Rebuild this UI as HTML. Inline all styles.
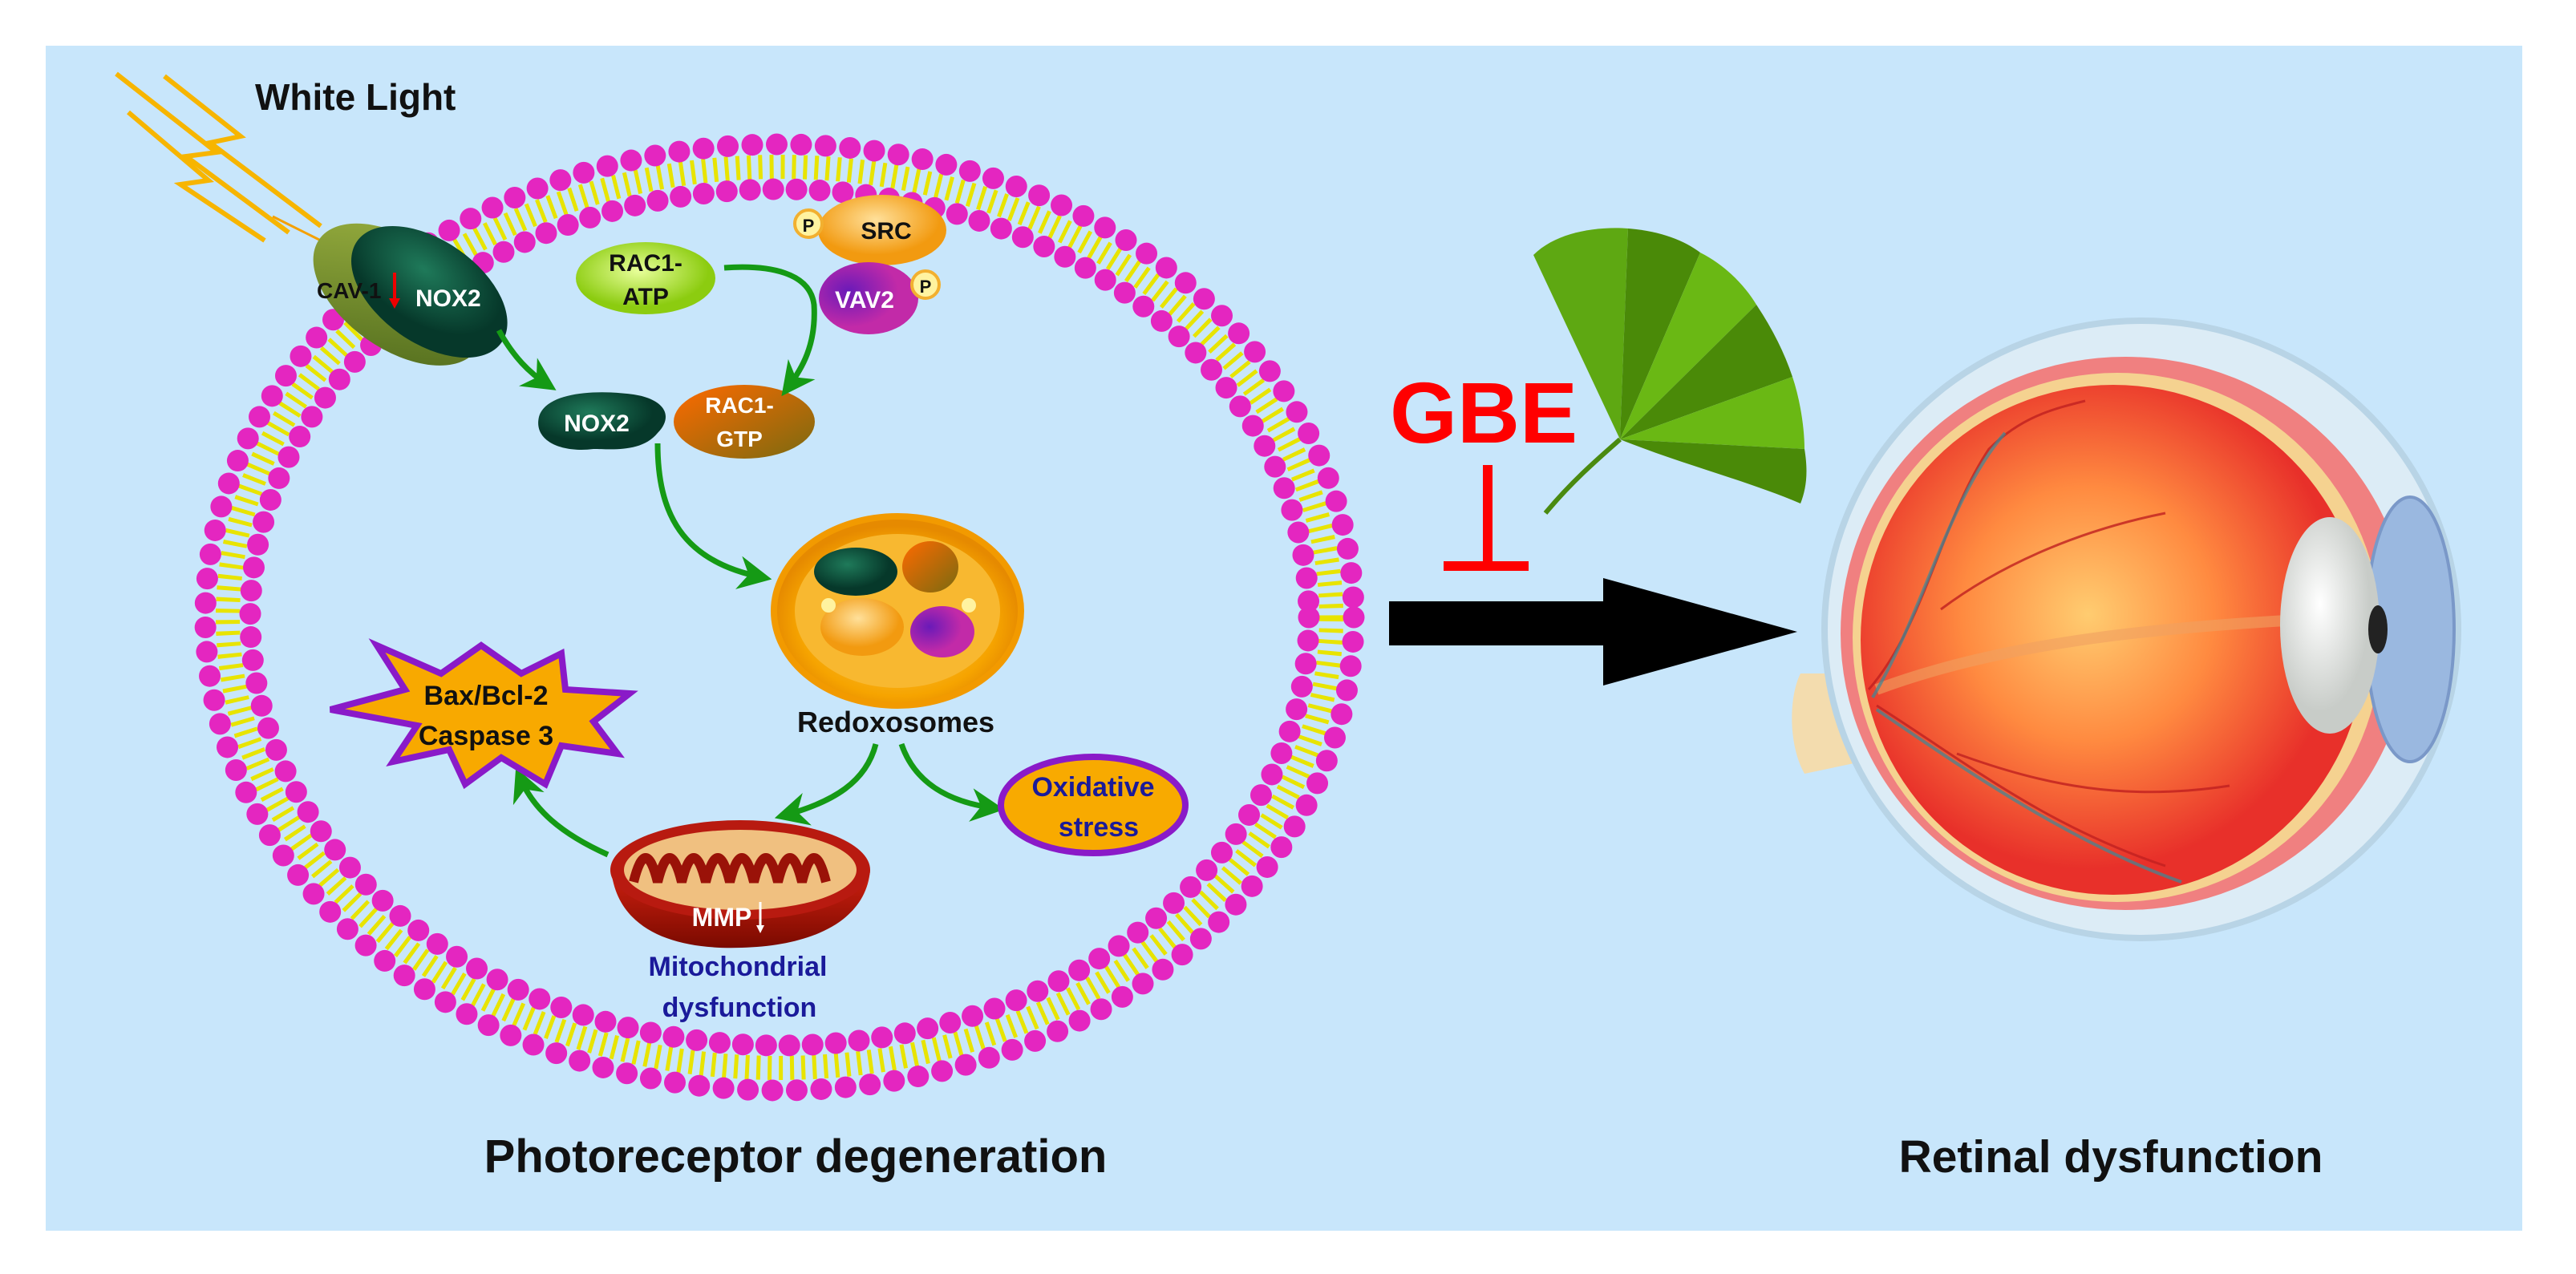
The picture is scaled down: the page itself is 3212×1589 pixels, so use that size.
<!DOCTYPE html>
<html><head><meta charset="utf-8"><style>
html,body{margin:0;padding:0;background:#fff}
svg{display:block}
text{font-family:"Liberation Sans",Arial,sans-serif;font-weight:bold}
</style></head><body>
<svg width="3212" height="1589" viewBox="0 0 3212 1589" xmlns="http://www.w3.org/2000/svg">
<defs>
<radialGradient id="gOr" cx="50%" cy="55%"><stop offset="0" stop-color="#ffd060"/><stop offset="0.8" stop-color="#f6a400"/><stop offset="1" stop-color="#e68a00"/></radialGradient>
<radialGradient id="gLime" cx="45%" cy="40%"><stop offset="0" stop-color="#e8ff9a"/><stop offset="1" stop-color="#8ccc10"/></radialGradient>
<radialGradient id="gSrc" cx="45%" cy="35%"><stop offset="0" stop-color="#ffe09a"/><stop offset="1" stop-color="#f29a10"/></radialGradient>
<radialGradient id="gVav" cx="30%" cy="40%"><stop offset="0" stop-color="#6a1ab8"/><stop offset="1" stop-color="#c22aa8"/></radialGradient>
<linearGradient id="gGtp" x1="0" y1="0" x2="1" y2="1"><stop offset="0" stop-color="#ff6a00"/><stop offset="1" stop-color="#7a6a10"/></linearGradient>
<radialGradient id="gNox" cx="40%" cy="35%"><stop offset="0" stop-color="#1f7a5a"/><stop offset="1" stop-color="#06382a"/></radialGradient>
<linearGradient id="gCav" x1="0" y1="0" x2="1" y2="1"><stop offset="0" stop-color="#9ab040"/><stop offset="1" stop-color="#4f6a1c"/></linearGradient>
<linearGradient id="gMito" x1="0" y1="0" x2="0" y2="1"><stop offset="0" stop-color="#d02010"/><stop offset="1" stop-color="#7a0a00"/></linearGradient>
<radialGradient id="gEye" cx="45%" cy="45%"><stop offset="0" stop-color="#ffcc70"/><stop offset="0.5" stop-color="#ff8a40"/><stop offset="1" stop-color="#e8302a"/></radialGradient>
<radialGradient id="gLens" cx="40%" cy="40%"><stop offset="0" stop-color="#ffffff"/><stop offset="1" stop-color="#c8ccc8"/></radialGradient>
<marker id="ah" viewBox="0 0 10 10" refX="7" refY="5" markerWidth="6" markerHeight="6" orient="auto-start-reverse" markerUnits="strokeWidth"><path d="M0,0 L10,5 L0,10 L3,5 z" fill="#159a15"/></marker>
</defs>
<rect x="0" y="0" width="3212" height="1589" fill="#fff"/>
<rect x="57" y="57" width="3088" height="1478" fill="#c8e6fb"/>

<ellipse cx="972" cy="770" rx="688" ry="562" fill="none" stroke="#e8e400" stroke-width="30" stroke-dasharray="5 9"/>
<ellipse cx="972" cy="770" rx="716" ry="590" fill="none" stroke="#e426c0" stroke-width="27" stroke-linecap="round" stroke-dasharray="0 30.5"/>
<ellipse cx="972" cy="770" rx="660" ry="534" fill="none" stroke="#e426c0" stroke-width="27" stroke-linecap="round" stroke-dasharray="0 29"/>

<g fill="none" stroke="#f7b500" stroke-width="6" stroke-linejoin="miter">
<polyline points="145,92 270,190 232,195 360,290"/>
<polyline points="205,95 300,170 262,178 400,282"/>
<polyline points="160,140 260,225 225,230 330,300"/>
<line x1="340" y1="270" x2="400" y2="300" stroke="#f5a000" stroke-width="3"/>
</g>
<text x="318" y="137" font-size="46" fill="#111">White Light</text>

<g transform="rotate(35 505 355)">
<ellipse cx="505" cy="370" rx="120" ry="68" fill="url(#gCav)"/>
<ellipse cx="535" cy="345" rx="110" ry="64" fill="url(#gNox)"/>
</g>
<text x="395" y="372" font-size="28" fill="#111">CAV-1</text>
<line x1="492" y1="340" x2="492" y2="380" stroke="#e00" stroke-width="4"/>
<path d="M485,372 L492,385 L499,372z" fill="#e00"/>
<text x="518" y="382" font-size="30" fill="#fff">NOX2</text>

<ellipse cx="805" cy="347" rx="87" ry="45" fill="url(#gLime)"/>
<text x="805" y="338" font-size="30" fill="#111" text-anchor="middle">RAC1-</text>
<text x="805" y="380" font-size="30" fill="#111" text-anchor="middle">ATP</text>
<ellipse cx="1100" cy="287" rx="80" ry="44" fill="url(#gSrc)"/>
<text x="1105" y="298" font-size="30" fill="#111" text-anchor="middle">SRC</text>
<ellipse cx="1083" cy="372" rx="62" ry="45" fill="url(#gVav)"/>
<text x="1078" y="384" font-size="30" fill="#fff" text-anchor="middle">VAV2</text>
<circle cx="1008" cy="279" r="17" fill="#fff3a0" stroke="#f2b030" stroke-width="4"/>
<text x="1008" y="289" font-size="22" fill="#111" text-anchor="middle">P</text>
<circle cx="1154" cy="355" r="17" fill="#fff3a0" stroke="#f2b030" stroke-width="4"/>
<text x="1154" y="365" font-size="22" fill="#111" text-anchor="middle">P</text>

<path d="M672,520 C680,490 740,485 790,492 C830,498 840,520 820,540 C800,565 760,560 740,560 C700,565 665,550 672,520z" fill="url(#gNox)"/>
<text x="744" y="538" font-size="30" fill="#fff" text-anchor="middle">NOX2</text>
<ellipse cx="928" cy="526" rx="88" ry="46" fill="url(#gGtp)"/>
<text x="922" y="515" font-size="28" fill="#fff" text-anchor="middle">RAC1-</text>
<text x="922" y="557" font-size="28" fill="#fff" text-anchor="middle">GTP</text>

<g fill="none" stroke="#159a15" stroke-width="7" marker-end="url(#ah)">
<path d="M622,412 C640,445 660,465 683,480"/>
<path d="M903,334 C960,330 1010,340 1015,380 C1018,430 1000,460 982,484"/>
<path d="M820,553 C820,640 850,700 950,720"/>
<path d="M1092,928 C1080,975 1040,1000 978,1017"/>
<path d="M1124,928 C1140,975 1180,1000 1240,1008"/>
<path d="M758,1066 C700,1040 665,1010 648,969"/>
</g>

<ellipse cx="1119" cy="762" rx="154" ry="118" fill="url(#gOr)" stroke="#f29a00" stroke-width="8"/>
<ellipse cx="1119" cy="762" rx="128" ry="96" fill="#f8b830"/>
<ellipse cx="1067" cy="713" rx="52" ry="30" fill="url(#gNox)"/>
<ellipse cx="1160" cy="707" rx="35" ry="32" fill="url(#gGtp)"/>
<ellipse cx="1075" cy="782" rx="52" ry="36" fill="url(#gSrc)"/>
<ellipse cx="1175" cy="788" rx="40" ry="32" fill="url(#gVav)"/>
<circle cx="1033" cy="755" r="9" fill="#fff3a0"/>
<circle cx="1208" cy="755" r="9" fill="#fff3a0"/>
<text x="1117" y="913" font-size="36" fill="#111" text-anchor="middle">Redoxosomes</text>

<polygon points="600,805 650,840 700,815 705,860 785,865 740,900 770,940 700,930 680,978 625,945 580,978 560,935 490,950 520,905 412,885 505,860 470,805 550,840" fill="#f8a900" stroke="#8a1ac8" stroke-width="8" stroke-linejoin="miter"/>
<text x="606" y="879" font-size="34" fill="#111" text-anchor="middle">Bax/Bcl-2</text>
<text x="606" y="929" font-size="34" fill="#111" text-anchor="middle">Caspase 3</text>

<path d="M762,1085 C770,1160 840,1185 925,1182 C1010,1180 1080,1150 1085,1085 Z" fill="url(#gMito)"/>
<ellipse cx="923" cy="1085" rx="162" ry="62" fill="#b81a10"/>
<ellipse cx="923" cy="1085" rx="145" ry="50" fill="#f0c080"/>
<path d="M790,1100 q15,-60 30,0 q15,-60 30,0 q15,-60 30,0 q15,-60 30,0 q15,-60 30,0 q15,-60 30,0 q15,-60 30,0 q15,-60 30,0" fill="none" stroke="#9a1208" stroke-width="12"/>
<text x="900" y="1155" font-size="32" fill="#fff" text-anchor="middle">MMP</text>
<line x1="948" y1="1125" x2="948" y2="1160" stroke="#fff" stroke-width="3"/>
<path d="M943,1154 L948,1164 L953,1154z" fill="#fff"/>
<text x="920" y="1217" font-size="34" fill="#1a1a9a" text-anchor="middle">Mitochondrial</text>
<text x="922" y="1268" font-size="34" fill="#1a1a9a" text-anchor="middle">dysfunction</text>

<ellipse cx="1363" cy="1004" rx="115" ry="60" fill="#f8aa00" stroke="#8a1ac8" stroke-width="8"/>
<text x="1363" y="993" font-size="34" fill="#1a1a9a" text-anchor="middle">Oxidative</text>
<text x="1370" y="1043" font-size="34" fill="#1a1a9a" text-anchor="middle">stress</text>

<text x="992" y="1462" font-size="58" fill="#111" text-anchor="middle">Photoreceptor degeneration</text>
<text x="2632" y="1462" font-size="57" fill="#111" text-anchor="middle">Retinal dysfunction</text>

<text x="1850" y="552" font-size="108" fill="#f00" text-anchor="middle">GBE</text>
<rect x="1849" y="580" width="12" height="130" fill="#f00"/>
<rect x="1800" y="700" width="106" height="12" fill="#f00"/>

<polygon points="1732,750 1999,750 1999,721 2241,788 1999,855 1999,805 1732,805" fill="#000"/>

<path d="M1927,640 C1960,600 1995,570 2020,548" stroke="#4a8a10" stroke-width="6" fill="none"/>
<g>
<path d="M2020,548 L1912,318 C1940,290 1990,282 2030,285 Z" fill="#5ea812"/>
<path d="M2020,548 L2030,285 C2070,288 2100,300 2120,315 Z" fill="#4a8a08"/>
<path d="M2020,548 L2120,315 C2150,330 2175,355 2190,380 Z" fill="#6ab814"/>
<path d="M2020,548 L2190,380 C2210,410 2225,440 2235,470 Z" fill="#4a8a08"/>
<path d="M2020,548 L2235,470 C2245,500 2250,535 2250,560 Z" fill="#6ab814"/>
<path d="M2020,548 L2250,560 C2255,590 2252,610 2245,628 C2180,600 2100,580 2020,548 Z" fill="#4a8a08"/>
</g>

<path d="M2245,840 C2230,870 2230,930 2250,965 L2345,945 L2345,840 Z" fill="#f3dcae"/>
<ellipse cx="2670" cy="785" rx="395" ry="385" fill="#dcecf6" stroke="#b8d4e6" stroke-width="8"/>
<ellipse cx="2650" cy="790" rx="355" ry="345" fill="#f08080"/>
<ellipse cx="2640" cy="795" rx="330" ry="330" fill="#f5d290"/>
<ellipse cx="2635" cy="798" rx="315" ry="318" fill="url(#gEye)"/>
<path d="M2340,860 C2500,800 2700,780 2930,770" stroke="#f0a060" stroke-width="14" fill="none" opacity="0.6"/>
<g fill="none" stroke="#c02020" stroke-width="3" opacity="0.8">
<path d="M2330,860 C2400,780 2420,650 2480,560 C2520,520 2560,510 2600,500"/>
<path d="M2420,760 C2500,700 2600,660 2700,640"/>
<path d="M2340,880 C2450,950 2550,1030 2700,1080"/>
<path d="M2440,940 C2550,980 2650,1000 2780,980"/>
</g>
<g fill="none" stroke="#3a8a9a" stroke-width="4" opacity="0.7">
<path d="M2335,870 C2400,760 2430,620 2500,540"/>
<path d="M2340,885 C2450,960 2580,1050 2720,1100"/>
</g>
<ellipse cx="3005" cy="785" rx="55" ry="165" fill="#9ab8e0" stroke="#7a98c8" stroke-width="4"/>
<ellipse cx="2905" cy="780" rx="62" ry="135" fill="url(#gLens)"/>
<ellipse cx="2965" cy="785" rx="12" ry="30" fill="#222"/>
</svg>
</body></html>
